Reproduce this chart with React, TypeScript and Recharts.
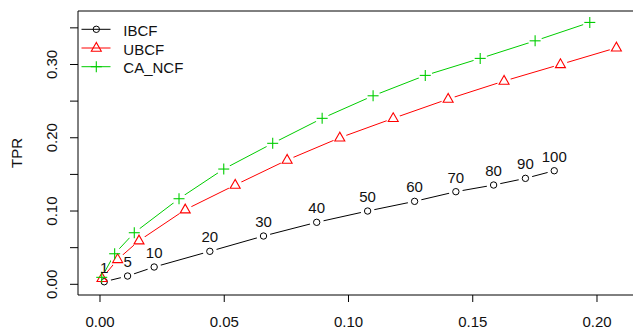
import React from "react";
import { LineChart, Line, XAxis, YAxis, ReferenceArea, LabelList, Legend } from "recharts";

const nLabels = ["1", "5", "10", "20", "30", "40", "50", "60", "70", "80", "90", "100"];
const ibcfFPR = [0.0017, 0.0111, 0.0218, 0.0442, 0.0658, 0.0872, 0.1077, 0.1266, 0.1432, 0.1584, 0.1712, 0.1828];
const ibcfTPR = [0.0035, 0.0113, 0.0236, 0.045, 0.0659, 0.0846, 0.1, 0.1132, 0.1264, 0.1355, 0.1446, 0.155];
const ubcfFPR = [0.0008, 0.0071, 0.0157, 0.0343, 0.0544, 0.0753, 0.0965, 0.118, 0.1401, 0.1626, 0.1853, 0.2078];
const ubcfTPR = [0.0082, 0.034, 0.0595, 0.1018, 0.1355, 0.1696, 0.2, 0.2265, 0.2528, 0.2774, 0.3001, 0.3228];
const caFPR = [0.0007, 0.0059, 0.0138, 0.0318, 0.0498, 0.0695, 0.0894, 0.1099, 0.1309, 0.153, 0.1751, 0.1971];
const caTPR = [0.0095, 0.0417, 0.0704, 0.1168, 0.1573, 0.1924, 0.2265, 0.2573, 0.2851, 0.3083, 0.3323, 0.3574];
const xTicks = [0, 0.05, 0.1, 0.15, 0.2];
const yTicks = [0, 0.05, 0.1, 0.15, 0.2, 0.25, 0.3, 0.35];
const seriesNames = ["IBCF", "UBCF", "CA_NCF"];

const xDomain: [number, number] = [-0.00885, 0.2161];
const yDomain: [number, number] = [-0.0146, 0.373];

const FONT = "'Liberation Sans', Arial, sans-serif";
const TEXT = "#111";
const RED = "#FF0000";
const GREEN = "#00CD00";

const ibcfData = ibcfFPR.map((x, i) => ({ x, y: ibcfTPR[i], label: nLabels[i] }));
const ubcfData = ubcfFPR.map((x, i) => ({ x, y: ubcfTPR[i] }));
const caData = caFPR.map((x, i) => ({ x, y: caTPR[i] }));

type Kind = "circle" | "triangle" | "plus";

const Marker = ({ kind, cx, cy, color }: { kind: Kind; cx: number; cy: number; color: string }) => {
  if (kind === "circle") {
    return <circle cx={cx} cy={cy} r={3.2} fill="none" stroke={color} strokeWidth={1} />;
  }
  if (kind === "triangle") {
    return (
      <polygon
        points={`${cx},${cy - 5.6} ${cx - 5},${cy + 3.2} ${cx + 5},${cy + 3.2}`}
        fill="none"
        stroke={color}
        strokeWidth={1.1}
      />
    );
  }
  return (
    <g stroke={color} strokeWidth={1.1}>
      <line x1={cx - 5.5} y1={cy} x2={cx + 5.5} y2={cy} />
      <line x1={cx} y1={cy - 5.5} x2={cx} y2={cy + 5.5} />
    </g>
  );
};

const haloDot = (props: any) => {
  const { cx, cy, index } = props;
  if (cx == null || cy == null) return <g key={`h${index}`} />;
  return <circle key={`h${index}`} cx={cx} cy={cy} r={7} fill="#fff" stroke="none" />;
};

const markerDot = (kind: Kind, color: string) => (props: any) => {
  const { cx, cy, index } = props;
  if (cx == null || cy == null) return <g key={`m${index}`} />;
  return (
    <g key={`m${index}`}>
      <Marker kind={kind} cx={cx} cy={cy} color={color} />
    </g>
  );
};

const YTick = (props: any) => {
  const { x, y, payload } = props;
  const v = payload.value;
  const show = Math.round(v * 100) % 10 === 0;
  if (!show) return <g />;
  return (
    <text
      x={x}
      y={y}
      transform={`rotate(-90 ${x} ${y})`}
      textAnchor="middle"
      fontSize={15}
      fill={TEXT}
      fontFamily={FONT}
    >
      {v.toFixed(2)}
    </text>
  );
};

const LegendContent = () => {
  const rows: { name: string; kind: Kind; color: string; y: number }[] = [
    { name: seriesNames[0], kind: "circle", color: "#000", y: 29.3 },
    { name: seriesNames[1], kind: "triangle", color: RED, y: 48 },
    { name: seriesNames[2], kind: "plus", color: GREEN, y: 66.7 },
  ];
  return (
    <svg width={240} height={80} style={{ display: "block" }}>
      {rows.map((r) => (
        <g key={r.name}>
          <line x1={81.5} y1={r.y} x2={110.5} y2={r.y} stroke={r.color} strokeWidth={1} />
          <Marker kind={r.kind} cx={96.3} cy={r.y} color={r.color} />
          <text x={123.3} y={r.y + 6.6} fontSize={15} fill={TEXT} fontFamily={FONT}>
            {r.name}
          </text>
        </g>
      ))}
    </svg>
  );
};

export default function App() {
  return (
    <div
      style={{
        position: "absolute",
        left: 0,
        top: 0,
        width: 633,
        height: 332,
        overflow: "hidden",
        background: "#fff",
        fontFamily: FONT,
      }}
    >
      <LineChart width={640} height={332} margin={{ top: 11, right: 3, bottom: 0, left: 0 }}>
        <XAxis
          type="number"
          dataKey="x"
          domain={xDomain}
          allowDataOverflow
          ticks={xTicks}
          tickFormatter={(v: number) => v.toFixed(2)}
          axisLine={false}
          tickLine={{ stroke: "#000" }}
          tickSize={7}
          tickMargin={14.5}
          height={37}
          tick={{ fontSize: 15, fill: TEXT, fontFamily: FONT }}
          interval={0}
        />
        <YAxis
          type="number"
          dataKey="y"
          domain={yDomain}
          allowDataOverflow
          ticks={yTicks}
          axisLine={false}
          tickLine={{ stroke: "#000" }}
          tickSize={8}
          tickMargin={13.3}
          width={78}
          tick={<YTick />}
          interval={0}
          label={(p: any) => (
            <text
              key="ylab"
              x={21.5}
              y={153}
              transform="rotate(-90 21.5 153)"
              textAnchor="middle"
              fontSize={15}
              fill={TEXT}
              fontFamily={FONT}
            >
              TPR
            </text>
          )}
        />
        <ReferenceArea
          x1={xDomain[0]}
          x2={xDomain[1]}
          y1={yDomain[0]}
          y2={yDomain[1]}
          fill="none"
          stroke="#000"
          strokeWidth={1}
          ifOverflow="visible"
        />
        <Legend
          layout="horizontal"
          align="center"
          verticalAlign="middle"
          wrapperStyle={{ position: "absolute", left: 0, top: 0, width: 240, height: 80 }}
          content={<LegendContent />}
        />
        <Line data={ibcfData} dataKey="y" stroke="#000" strokeWidth={1} dot={haloDot} activeDot={false} isAnimationActive={false} legendType="none" />
        <Line data={ubcfData} dataKey="y" stroke={RED} strokeWidth={1} dot={haloDot} activeDot={false} isAnimationActive={false} legendType="none" />
        <Line data={caData} dataKey="y" stroke={GREEN} strokeWidth={1} dot={haloDot} activeDot={false} isAnimationActive={false} legendType="none" />
        <Line data={ibcfData} dataKey="y" stroke="none" dot={markerDot("circle", "#000")} activeDot={false} isAnimationActive={false} legendType="none">
          <LabelList dataKey="label" position="top" offset={9} fontSize={15} fill={TEXT} fontFamily={FONT} />
        </Line>
        <Line data={ubcfData} dataKey="y" stroke="none" dot={markerDot("triangle", RED)} activeDot={false} isAnimationActive={false} legendType="none" />
        <Line data={caData} dataKey="y" stroke="none" dot={markerDot("plus", GREEN)} activeDot={false} isAnimationActive={false} legendType="none" />
      </LineChart>
    </div>
  );
}
